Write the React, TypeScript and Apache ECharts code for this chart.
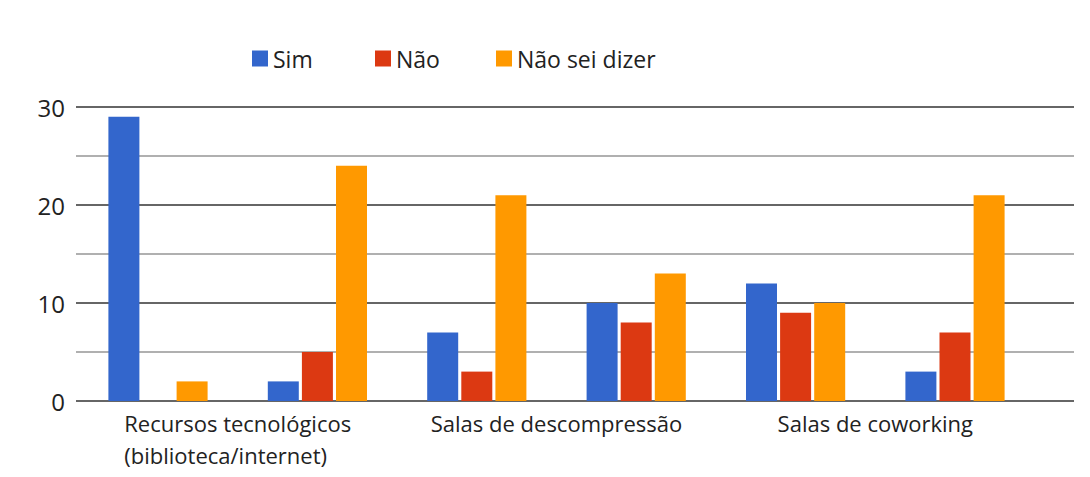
import React, { useEffect, useRef } from "react";
import * as echarts from "echarts";

const groupKeys = ["g1", "g2", "g3", "g4", "g5", "g6"];
const categoryLabels = [
  "Recursos tecnológicos\n(biblioteca/internet)",
  "Salas de descompressão",
  "Salas de coworking",
];
const seriesNames = ["Sim", "Não", "Não sei dizer"];
const simValues = [29, 2, 7, 10, 12, 3];
const naoValues = [0, 5, 3, 8, 9, 7];
const naoSeiValues = [2, 24, 21, 13, 10, 21];
const colors = ["#3366CC", "#DC3912", "#FF9900"];

const FONT = "'Open Sans', 'Noto Sans', sans-serif";

export default function App() {
  const ref = useRef<HTMLDivElement>(null);
  useEffect(() => {
    if (!ref.current) return;
    const chart = echarts.init(ref.current, null, { renderer: "svg" });
    const legendLefts = [247, 370, 491];
    const option: any = {
      animation: false,
      backgroundColor: "#ffffff",
      legend: seriesNames.map((n, i) => ({
        data: [n],
        left: legendLefts[i],
        top: 42,
        itemWidth: 16,
        itemHeight: 16,
        icon: "rect",
        textStyle: { fontFamily: FONT, fontSize: 23, color: "#222" },
        selectedMode: false,
      })),
      grid: [
        { left: 76, right: 16, top: 107, height: 294 },
        { left: 78.3, right: 55.3, top: 107, height: 294 },
      ],
      xAxis: [
        { gridIndex: 0, type: "value", min: 0, max: 1, show: false },
        {
          gridIndex: 1,
          type: "category",
          data: groupKeys,
          axisLine: { show: false },
          axisTick: { show: false },
          axisLabel: { show: false },
        },
        {
          gridIndex: 1,
          type: "category",
          position: "bottom",
          data: categoryLabels,
          axisLine: { show: false },
          axisTick: { show: false },
          axisLabel: {
            interval: 0,
            margin: 6,
            formatter: (v: string) =>
              v
                .split("\n")
                .map((l) => "{a|" + l + "}")
                .join("\n"),
            rich: {
              a: {
                align: "left",
                fontFamily: FONT,
                fontSize: 22,
                color: "#222",
                lineHeight: 32,
              },
            },
          },
        },
      ],
      yAxis: [
        {
          gridIndex: 0,
          type: "value",
          min: 0,
          max: 30,
          interval: 5,
          axisLine: { show: false },
          axisTick: { show: false },
          axisLabel: {
            margin: 11,
            fontFamily: FONT,
            fontSize: 24,
            color: "#222",
            formatter: (v: number) => (v % 10 === 0 ? String(v) : ""),
          },
          splitLine: {
            lineStyle: { color: ["#666666", "#b0b0b0"], width: 2 },
          },
        },
        {
          gridIndex: 1,
          type: "value",
          min: 0,
          max: 30,
          interval: 5,
          show: false,
          splitLine: { show: false },
        },
      ],
      series: [simValues, naoValues, naoSeiValues].map((d, i) => ({
        name: seriesNames[i],
        type: "bar",
        xAxisIndex: 1,
        yAxisIndex: 1,
        data: d,
        barWidth: 31,
        barGap: "10%",
        itemStyle: { color: colors[i] },
      })),
    };
    chart.setOption(option);
    return () => chart.dispose();
  }, []);
  return (
    <div
      ref={ref}
      style={{ position: "fixed", left: 0, top: 0, width: 1090, height: 477 }}
    />
  );
}
